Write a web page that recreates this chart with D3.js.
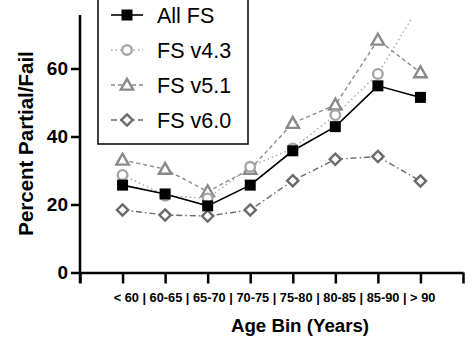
<!DOCTYPE html>
<html>
<head>
<meta charset="utf-8">
<script src="https://cdn.jsdelivr.net/npm/d3@7"></script>
<style>
html,body{margin:0;padding:0;background:#fff;}
svg{display:block;font-family:"Liberation Sans",Arial,Helvetica,sans-serif;}
</style>
</head>
<body>
<svg id="chart" width="473" height="339"></svg>
<script>
const categories = ["< 60","60-65","65-70","70-75","75-80","80-85","85-90","> 90"];
const allFS = [25.7, 23.1, 19.6, 25.7, 35.8, 42.9, 54.9, 51.5];
const fsV43 = [28.7, 22.6, 21.8, 31.1, 36.5, 46.3, 58.4, 79.0];
const fsV51 = [33.1, 30.4, 23.8, 30.4, 43.9, 49.3, 68.4, 58.8];
const fsV60 = [18.4, 16.9, 16.6, 18.4, 27.0, 33.3, 34.1, 26.9];
const yTicks = [0, 20, 40, 60];
const seriesNames = ["All FS", "FS v4.3", "FS v5.1", "FS v6.0"];

const svg = d3.select("#chart");
const x = d3.scaleLinear().domain([0, 9]).range([80, 463]);
const y = d3.scaleLinear().domain([0, 75]).range([272.5, 17.5]);

const series = [
  {name: seriesNames[0], values: allFS, color: "#000", dash: null, marker: "square", lw: 1.6},
  {name: seriesNames[1], values: fsV43, color: "#a6a6a6", dash: "1.5,3", marker: "circle", lw: 1.4},
  {name: seriesNames[2], values: fsV51, color: "#8a8a8a", dash: "4,3", marker: "triangle", lw: 1.4},
  {name: seriesNames[3], values: fsV60, color: "#6a6a6a", dash: "6,3,1.5,3", marker: "diamond", lw: 1.4}
];

// clip
svg.append("defs").append("clipPath").attr("id","plotclip")
  .append("rect").attr("x", 70).attr("y", y(75)).attr("width", 420).attr("height", 300);

// Axes
const yAxis = d3.axisLeft(y).tickValues(yTicks).tickSize(9).tickPadding(3).tickSizeOuter(0);
const gy = svg.append("g").attr("transform", "translate(80,0)").call(yAxis);
gy.select(".domain").remove();
gy.selectAll(".tick line").attr("stroke", "#000").attr("stroke-width", 2.5);
gy.selectAll(".tick text").attr("font-size", 19).attr("font-weight", "bold").attr("fill", "#000")
  .attr("font-family", "Liberation Sans, Arial, sans-serif");
svg.append("line").attr("x1", 80).attr("x2", 80).attr("y1", 15).attr("y2", 283)
  .attr("stroke", "#000").attr("stroke-width", 2.5);

const xAxis = d3.axisBottom(x).tickValues(d3.range(0, 10)).tickSize(11).tickFormat("").tickSizeOuter(0);
const gx = svg.append("g").attr("transform", `translate(0,${y(0)})`).call(xAxis);
gx.select(".domain").attr("stroke", "#000").attr("stroke-width", 2.5);
gx.selectAll(".tick line").attr("stroke", "#000").attr("stroke-width", 2.5);

// x tick label string
svg.append("text").attr("x", 274.5).attr("y", 301.5).attr("text-anchor", "middle")
  .attr("font-size", 12.8).attr("font-weight", "bold").attr("fill", "#000")
  .text(categories.join(" | "));

svg.append("text").attr("x", 300).attr("y", 332).attr("text-anchor", "middle")
  .attr("font-size", 18.7).attr("font-weight", "bold").attr("fill", "#000")
  .text("Age Bin (Years)");

svg.append("text").attr("transform", "translate(33,143.5) rotate(-90)").attr("text-anchor", "middle")
  .attr("font-size", 20.5).attr("font-weight", "bold").attr("fill", "#000")
  .text("Percent Partial/Fail");

function drawMarker(g, type, color, cx, cy) {
  if (type === "square") {
    g.append("rect").attr("x", cx - 5.5).attr("y", cy - 5.5).attr("width", 11).attr("height", 11).attr("fill", "#000");
  } else if (type === "circle") {
    g.append("circle").attr("cx", cx).attr("cy", cy).attr("r", 4.8).attr("fill", "#fff")
      .attr("stroke", color).attr("stroke-width", 2.4);
  } else if (type === "triangle") {
    const s = 6.2;
    g.append("path").attr("d", `M${cx},${cy - s}L${cx + s},${cy + s * 0.75}L${cx - s},${cy + s * 0.75}Z`)
      .attr("fill", "#fff").attr("stroke", color).attr("stroke-width", 2.4).attr("stroke-linejoin", "miter");
  } else if (type === "diamond") {
    const s = 5.6;
    g.append("path").attr("d", `M${cx},${cy - s}L${cx + s},${cy}L${cx},${cy + s}L${cx - s},${cy}Z`)
      .attr("fill", "#fff").attr("stroke", color).attr("stroke-width", 2.4);
  }
}

const line = d3.line().x((d, i) => x(i + 1)).y(d => y(d));
const plot = svg.append("g").attr("clip-path", "url(#plotclip)");
// draw in order: v6.0, v5.1, v4.3, All
const order = [3, 2, 1, 0];
order.forEach(k => {
  const s = series[k];
  plot.append("path").datum(s.values).attr("d", line).attr("fill", "none")
    .attr("stroke", s.color).attr("stroke-width", s.lw).attr("stroke-dasharray", s.dash);
});
order.forEach(k => {
  const s = series[k];
  const mg = plot.append("g");
  s.values.forEach((v, i) => {
    if (v <= 75) drawMarker(mg, s.marker, s.color, x(i + 1), y(v));
  });
});

// Legend
const leg = svg.append("g");
leg.append("rect").attr("x", 98).attr("y", -5).attr("width", 150).attr("height", 149)
  .attr("fill", "#fff").attr("stroke", "#000").attr("stroke-width", 1.5);
series.forEach((s, i) => {
  const cy = 15 + i * 35;
  leg.append("line").attr("x1", 111).attr("x2", 143).attr("y1", cy).attr("y2", cy)
    .attr("stroke", s.color).attr("stroke-width", s.lw).attr("stroke-dasharray", s.dash);
  drawMarker(leg, s.marker, s.color, 127, cy);
  leg.append("text").attr("x", 157).attr("y", cy + 7.5).attr("font-size", 21.5).attr("fill", "#000")
    .text(s.name);
});
</script>
</body>
</html>
